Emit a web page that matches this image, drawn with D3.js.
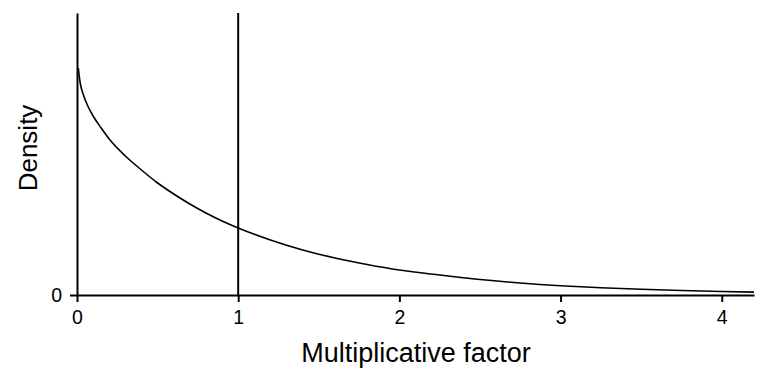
<!DOCTYPE html>
<html>
<head>
<meta charset="utf-8">
<script src="https://cdn.jsdelivr.net/npm/d3@7.9.0/dist/d3.min.js"></script>
<style>
  body { margin: 0; background: #fff; }
  svg { display: block; font-family: "Liberation Sans", Arial, sans-serif; }
</style>
</head>
<body>
<svg id="chart" width="768" height="384"></svg>
<script>
// density curve
const factor = [0.008, 0.02, 0.04, 0.07, 0.10, 0.15, 0.20, 0.30, 0.40, 0.50, 0.60, 0.70, 0.80, 0.90, 1.00,
  1.20, 1.40, 1.60, 1.80, 2.00, 2.25, 2.50, 2.75, 3.00, 3.25, 3.50, 3.75, 4.00, 4.20];
const density = [2.27, 2.12, 2.00, 1.88, 1.79, 1.67, 1.56, 1.39, 1.25, 1.12, 1.01, 0.91, 0.82, 0.74, 0.67,
  0.55, 0.45, 0.37, 0.305, 0.25, 0.20, 0.155, 0.12, 0.093, 0.073, 0.057, 0.045, 0.035, 0.029];
const xTicks = [0, 1, 2, 3, 4];
const yTicks = [0];
const refLine = 1;

const svg = d3.select("#chart");

let x = d3.scaleLinear().domain([0, 4.2]).range([77, 754]);
let y = d3.scaleLinear().domain([0, 2.82]).range([295, 13]);

let points = factor.map((f, i) => ({ x: f, y: density[i] }));

svg.append("g")
    .attr("transform", `translate(0,${y(0)})`)
    .call(d3.axisBottom(x).tickValues(xTicks).tickFormat(d3.format("d"))
        .tickSize(7).tickPadding(8).tickSizeOuter(0));

svg.append("g")
    .attr("transform", `translate(${x(0)},0)`)
    .call(d3.axisLeft(y).tickValues(yTicks).tickFormat(d3.format("d"))
        .tickSize(7).tickPadding(8).tickSizeOuter(0));

svg.selectAll(".domain, .tick line")
    .attr("stroke", "#000")
    .attr("stroke-width", 2);
svg.selectAll(".tick text")
    .attr("fill", "#000")
    .attr("font-size", 19.5)
    .attr("font-family", "Liberation Sans, Arial, sans-serif");

// reference line at factor = 1
svg.append("line")
    .attr("x1", x(refLine)).attr("x2", x(refLine))
    .attr("y1", y(2.82)).attr("y2", y(0))
    .attr("stroke", "#000")
    .attr("stroke-width", 2);

svg.append("path")
    .datum(points)
    .attr("fill", "none")
    .attr("stroke", "#000")
    .attr("stroke-width", 1.6)
    .attr("d", d3.line().x(d => x(d.x)).y(d => y(d.y)).curve(d3.curveMonotoneX));

svg.append("text")
    .attr("x", 416).attr("y", 362)
    .attr("text-anchor", "middle")
    .attr("font-size", 27)
    .text("Multiplicative factor");

svg.append("text")
    .attr("transform", "translate(37,148) rotate(-90)")
    .attr("text-anchor", "middle")
    .attr("font-size", 26)
    .text("Density");
</script>
</body>
</html>
